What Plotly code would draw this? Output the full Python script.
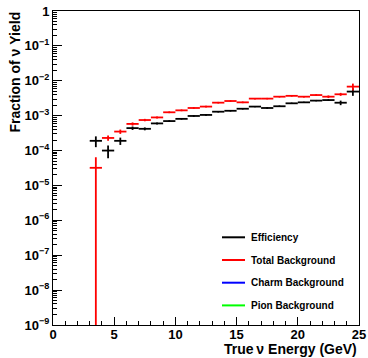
import plotly.graph_objects as go

energy = [3.5, 4.5, 5.5, 6.5, 7.5, 8.5, 9.5, 10.5, 11.5, 12.5, 13.5, 14.5,
          15.5, 16.5, 17.5, 18.5, 19.5, 20.5, 21.5, 22.5, 23.5, 24.5]
half_bin = [0.5] * len(energy)

efficiency = [1.9e-4, 1.0e-4, 1.9e-4, 4.4e-4, 4.2e-4, 6.0e-4, 7.0e-4, 8.1e-4, 9.8e-4,
              1.05e-3, 1.30e-3, 1.38e-3, 1.58e-3, 1.82e-3, 1.66e-3, 1.86e-3, 2.26e-3,
              2.41e-3, 2.70e-3, 2.80e-3, 2.35e-3, 4.9e-3]
efficiency_err = [0.65e-4, 0.4e-4, 0.45e-4, 0.5e-4, 0.4e-4, 0.4e-4, 0.4e-4, 0.4e-4, 0.5e-4,
                  0.5e-4, 0.6e-4, 0.6e-4, 0.7e-4, 0.8e-4, 0.8e-4, 0.9e-4, 1.0e-4,
                  1.1e-4, 1.2e-4, 1.3e-4, 3.5e-4, 1.2e-3]

total_bkg = [3.2e-5, 2.3e-4, 3.5e-4, 5.8e-4, 7.5e-4, 8.9e-4, 1.25e-3, 1.42e-3, 1.66e-3,
             1.82e-3, 2.36e-3, 2.63e-3, 2.41e-3, 3.08e-3, 3.08e-3, 3.5e-3, 3.7e-3,
             3.5e-3, 3.9e-3, 3.5e-3, 4.1e-3, 6.8e-3]
total_bkg_err = [3.2e-5, 0.4e-4, 0.5e-4, 0.6e-4, 0.6e-4, 0.6e-4, 0.7e-4, 0.8e-4, 0.9e-4,
                 1.0e-4, 1.2e-4, 1.3e-4, 1.3e-4, 1.5e-4, 1.5e-4, 1.7e-4, 1.8e-4,
                 1.8e-4, 2.0e-4, 3.0e-4, 4.0e-4, 1.5e-3]

legend_labels = ["Efficiency", "Total Background", "Charm Background", "Pion Background"]
legend_colors = ["#000000", "#ff0000", "#0000ff", "#00ff00"]

x_ticks = [0, 5, 10, 15, 20, 25]
y_decades = list(range(-9, 1))
y_ticktext = ["10<sup>\u2212%d</sup>" % (-d) if d < 0 else "1" for d in y_decades]

FONT = "Liberation Sans, Arial, sans-serif"

y_minor = [m * 10.0 ** d for d in range(-9, 0) for m in range(2, 10)]

fig = go.Figure()

for y, err, col, w in [(efficiency, efficiency_err, "#000000", 1.8),
                       (total_bkg, total_bkg_err, "#ff0000", 1.8)]:
    fig.add_trace(go.Scatter(
        x=energy, y=y, mode="markers",
        marker=dict(size=1, color=col),
        error_x=dict(type="data", array=half_bin, width=0, thickness=w, color=col),
        error_y=dict(type="data", array=err, width=0, thickness=w, color=col),
        showlegend=False, cliponaxis=True,
    ))

fig.update_layout(
    template="none",
    width=368, height=358,
    margin=dict(l=53, r=9, t=11, b=33, autoexpand=False),
    paper_bgcolor="white", plot_bgcolor="white",
    showlegend=False,
    font=dict(family=FONT, size=12, color="black", weight="bold"),
)

fig.update_xaxes(
    range=[0, 25], tickvals=x_ticks, ticks="inside", ticklen=8, tickwidth=1,
    tickcolor="black", automargin=False, ticklabelstandoff=-3,
    showgrid=False, zeroline=False, showline=True, linecolor="black", linewidth=1,
    mirror=True, tickfont=dict(family=FONT, size=13, weight="bold"),
    minor=dict(ticks="inside", ticklen=4, dtick=1, showgrid=False, tickcolor="black"),
)
fig.update_yaxes(
    type="log", range=[-9, 0], tickvals=[10.0 ** d for d in y_decades],
    ticktext=y_ticktext, automargin=False,
    ticks="inside", ticklen=9, tickwidth=1, tickcolor="black",
    showgrid=False, zeroline=False, showline=True, linecolor="black", linewidth=1,
    mirror=True, tickfont=dict(family=FONT, size=13, weight="bold"),
    minor=dict(ticks="inside", ticklen=4, tickvals=y_minor, showgrid=False,
               tickcolor="black", tickwidth=1),
)

# axis titles (ROOT style, aligned to axis end)
fig.add_annotation(text="True\u2009\u03bd Energy (GeV)", xref="paper", yref="paper",
                   x=1.0, y=-0.076, xanchor="right", yanchor="middle", showarrow=False,
                   font=dict(family=FONT, size=14, weight="bold"))
fig.add_annotation(text="Fraction of \u03bd Yield", xref="paper", yref="paper",
                   x=-0.124, y=1.003, xanchor="center", yanchor="top", textangle=-90,
                   showarrow=False, font=dict(family=FONT, size=14, weight="bold"))

# legend
for lab, col, i in zip(legend_labels, legend_colors, range(4)):
    yy = 1 - (237.3 + 22.7 * i - 11) / 314
    fig.add_shape(type="line", xref="paper", yref="paper",
                  x0=(222 - 53) / 306, x1=(245 - 53) / 306, y0=yy, y1=yy,
                  line=dict(color=col, width=2))
    fig.add_annotation(text=lab, xref="paper", yref="paper",
                       x=(249 - 53) / 306, y=yy, xanchor="left", yanchor="middle",
                       showarrow=False, font=dict(family=FONT, size=10, weight="bold"))

fig.write_html("out.html")
